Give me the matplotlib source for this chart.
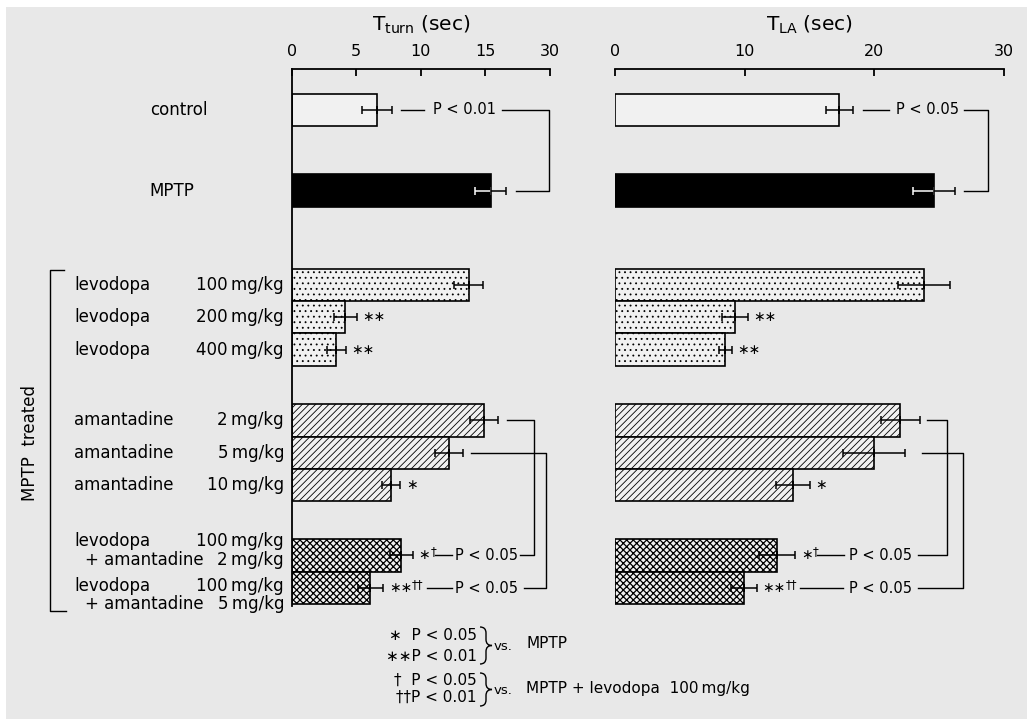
import numpy as np
import matplotlib
matplotlib.use("Agg")
import matplotlib.pyplot as plt
from matplotlib.path import Path
from matplotlib.patches import PathPatch, Rectangle
from matplotlib.transforms import blended_transform_factory

# ---- data ----
groups = ["control", "MPTP",
          "levodopa", "levodopa", "levodopa",
          "amantadine", "amantadine", "amantadine",
          "levodopa", "levodopa"]
doses = ["", "", "100", "200", "400", "2", "5", "10", "100", "100"]
combo_doses = ["", "", "", "", "", "", "", "", "2", "5"]

tturn_mean = [6.6, 15.4, 13.7, 4.15, 3.45, 14.9, 12.2, 7.7, 8.5, 6.1]
tturn_sem = [1.15, 1.2, 1.15, 0.9, 0.75, 1.1, 1.1, 0.7, 0.9, 1.0]
tla_mean = [17.3, 24.6, 23.8, 9.25, 8.5, 22.0, 20.0, 13.7, 12.5, 9.95]
tla_sem = [1.05, 1.6, 2.0, 1.0, 0.5, 1.5, 2.4, 1.3, 1.4, 1.0]

stars = ["", "", "", "\u2217\u2217", "\u2217\u2217", "", "", "\u2217", "\u2217", "\u2217\u2217"]
daggers = ["", "", "", "", "", "", "", "", "\u2020", "\u2020\u2020"]

tturn_ticks = [0, 5, 10, 15, 20]
tturn_ticklabels = ["0", "5", "10", "15", "30"]
tla_ticks = [0, 10, 20, 30]

# ---- layout ----
W, H = 1027, 719
BG = "#e8e8e8"
ypos = [0, 2.48, 5.38, 6.37, 7.37, 9.55, 10.55, 11.54, 13.7, 14.71]
styles = ["plain", "black", "dot", "dot", "dot", "diag", "diag", "diag", "cross", "cross"]
hatches = {"plain": None, "black": None, "dot": "...", "diag": "/////", "cross": "xxxxx"}
hatch_lw = {"plain": 0.6, "black": 0.6, "dot": 0.6, "diag": 0.6, "cross": 0.9}

plt.rcParams["font.family"] = ["DejaVu Sans"]
plt.rcParams["hatch.linewidth"] = 0.6

fig = plt.figure(figsize=(W / 100, H / 100), dpi=100, facecolor="white")
fig.patches.append(Rectangle((6 / W, -0.01), 1, 1.01 - 7 / H, transform=fig.transFigure,
                             facecolor=BG, edgecolor="none", zorder=-10))


def px(x, y):
    return x / W, 1 - y / H


axL = fig.add_axes([291.7 / W, 1 - 606 / H, 258.3 / W, 537 / H])
axR = fig.add_axes([615 / W, 1 - 606 / H, 389 / W, 537 / H])


def draw_panel(ax, means, sems, xmax, ticks, ticklabels, left_spine):
    ax.set_facecolor("none")
    ax.set_xlim(0, xmax)
    ax.set_ylim(15.26, -1.26)
    for s in ["bottom", "right"]:
        ax.spines[s].set_visible(False)
    ax.spines["left"].set_visible(left_spine)
    ax.spines["top"].set_linewidth(1.3)
    ax.spines["left"].set_linewidth(1.3)
    ax.xaxis.tick_top()
    ax.set_xticks(ticks)
    ax.set_xticklabels(ticklabels)
    ax.tick_params(axis="x", direction="in", length=5, width=1.3, pad=7, labelsize=11.5)
    ax.set_yticks([])
    for i, (m, e) in enumerate(zip(means, sems)):
        st = styles[i]
        fc = "black" if st == "black" else "#f1f1f1"
        with plt.rc_context({"hatch.linewidth": hatch_lw[st]}):
            bars = ax.barh(ypos[i], m, height=1.0, color=fc, edgecolor="black", linewidth=1.2,
                           hatch=hatches[st], zorder=2)
        for b in bars:
            if hasattr(b, "set_hatch_linewidth"):
                b.set_hatch_linewidth(hatch_lw[st])
        inner = "white" if st == "black" else "black"
        ax.errorbar(m, ypos[i], xerr=[[e], [0]], fmt="none", ecolor=inner,
                    elinewidth=1.1, capsize=3, capthick=1.1, zorder=3)
        ax.errorbar(m, ypos[i], xerr=[[0], [e]], fmt="none", ecolor="black",
                    elinewidth=1.1, capsize=3, capthick=1.1, zorder=3)
        if stars[i]:
            ax.annotate(stars[i], xy=(m + e, ypos[i]), xytext=(4, 0), textcoords="offset points",
                        ha="left", va="center", fontsize=10, zorder=4)
        if daggers[i]:
            off = 4 + len(stars[i]) * 0.838 * 10
            ax.annotate(daggers[i], xy=(m + e, ypos[i]), xytext=(off, 2.5),
                        textcoords="offset points", ha="left", va="center", fontsize=8.5)


def bracket(ax, ya, yb, xv, xa0, xb0):
    ax.plot([xa0, xv, xv, xb0], [ya, ya, yb, yb], color="black", lw=1.0,
            clip_on=False, zorder=3)


def dash(ax, y, x0, x1):
    ax.plot([x0, x1], [y, y], color="black", lw=1.0, clip_on=False, zorder=3)


draw_panel(axL, tturn_mean, tturn_sem, 20, tturn_ticks, tturn_ticklabels, True)
draw_panel(axR, tla_mean, tla_sem, 30, tla_ticks, [str(t) for t in tla_ticks], False)

# significance brackets, left panel
bracket(axL, ypos[0], ypos[1], 19.9, 16.3, 17.4)
dash(axL, ypos[0], 8.45, 10.25)
axL.text(13.4, ypos[0], "P < 0.01", ha="center", va="center", fontsize=10.5)
bracket(axL, ypos[5], ypos[8], 18.75, 16.65, 17.65)
dash(axL, ypos[8], 11.1, 12.4)
axL.text(12.65, ypos[8], "P < 0.05", ha="left", va="center", fontsize=10.5)
bracket(axL, ypos[6], ypos[9], 19.7, 13.85, 17.95)
dash(axL, ypos[9], 10.5, 12.4)
axL.text(12.65, ypos[9], "P < 0.05", ha="left", va="center", fontsize=10.5)

# right panel
bracket(axR, ypos[0], ypos[1], 28.75, 26.9, 26.9)
dash(axR, ypos[0], 19.1, 21.1)
axR.text(24.1, ypos[0], "P < 0.05", ha="center", va="center", fontsize=10.5)
bracket(axR, ypos[5], ypos[8], 25.6, 24.1, 23.35)
dash(axR, ypos[8], 15.55, 17.65)
axR.text(18.05, ypos[8], "P < 0.05", ha="left", va="center", fontsize=10.5)
bracket(axR, ypos[6], ypos[9], 26.8, 23.7, 23.35)
dash(axR, ypos[9], 14.25, 17.6)
axR.text(18.05, ypos[9], "P < 0.05", ha="left", va="center", fontsize=10.5)

# titles
fig.text(420.8 / W, 1 - 25 / H, r"$\mathregular{T_{turn}}$ (sec)", ha="center", va="center", fontsize=14.5)
fig.text(809.5 / W, 1 - 25 / H, r"$\mathregular{T_{LA}}$ (sec)", ha="center", va="center", fontsize=14.5)

# row labels
tr = blended_transform_factory(fig.transFigure, axL.transData)
fs = 12
axL.text(150 / W, ypos[0], "control", transform=tr, ha="left", va="center", fontsize=fs)
axL.text(149 / W, ypos[1], "MPTP", transform=tr, ha="left", va="center", fontsize=fs)
for i in range(2, 8):
    axL.text(74 / W, ypos[i], groups[i], transform=tr, ha="left", va="center", fontsize=fs)
    axL.text(284 / W, ypos[i], doses[i] + "\u2009mg/kg", transform=tr, ha="right", va="center", fontsize=fs)
for i, (d1, d2) in zip([8, 9], [(-0.45, 0.15), (-0.05, 0.5)]):
    axL.text(74 / W, ypos[i] + d1, groups[i], transform=tr, ha="left", va="center", fontsize=fs)
    axL.text(284 / W, ypos[i] + d1, doses[i] + "\u2009mg/kg", transform=tr, ha="right", va="center", fontsize=fs)
    axL.text(85 / W, ypos[i] + d2, "+ amantadine", transform=tr, ha="left", va="center", fontsize=fs)
    axL.text(284 / W, ypos[i] + d2, combo_doses[i] + "\u2009mg/kg", transform=tr, ha="right", va="center", fontsize=fs)

# MPTP treated bracket
fig.add_artist(plt.Line2D([64 / W, 50 / W, 50 / W, 66 / W],
                          [1 - 270 / H, 1 - 270 / H, 1 - 611 / H, 1 - 611 / H],
                          color="black", lw=1.0))
fig.text(30 / W, 1 - 443 / H, "MPTP  treated", rotation=90, ha="center", va="center", fontsize=fs)


# footnote
def brace(x0, y0, y1, w):
    ym = (y0 + y1) / 2
    xm = x0 + w / 2
    r = w / 2
    pts = [(x0, y0), (xm, y0), (xm, y0 + r), (xm, ym - r), (xm, ym), (x0 + w, ym),
           (xm, ym), (xm, ym + r), (xm, y1 - r), (xm, y1), (x0, y1)]
    codes = [Path.MOVETO, Path.CURVE3, Path.CURVE3, Path.LINETO, Path.CURVE3, Path.CURVE3,
             Path.CURVE3, Path.CURVE3, Path.LINETO, Path.CURVE3, Path.CURVE3]
    path = Path([px(x, y) for x, y in pts], codes)
    fig.add_artist(PathPatch(path, transform=fig.transFigure, fill=False, lw=1.0, edgecolor="black"))


foot = [("\u2217  P < 0.05", 635), ("\u2217\u2217P < 0.01", 656.5),
        ("\u2020  P < 0.05", 680.5), ("\u2020\u2020P < 0.01", 697)]
for s, y in foot:
    fig.text(477 / W, 1 - y / H, s, ha="right", va="center", fontsize=11)
brace(480, 627, 664, 12)
brace(480, 673, 706, 12)
fig.text(494 / W, 1 - 646 / H, "vs.", ha="left", va="center", fontsize=9.5)
fig.text(526 / W, 1 - 644 / H, "MPTP", ha="left", va="center", fontsize=11)
fig.text(494 / W, 1 - 691 / H, "vs.", ha="left", va="center", fontsize=9.5)
fig.text(526 / W, 1 - 689 / H, "MPTP + levodopa  100\u2009mg/kg", ha="left", va="center", fontsize=11)

fig.savefig("out.png", dpi=100, facecolor=fig.get_facecolor())
